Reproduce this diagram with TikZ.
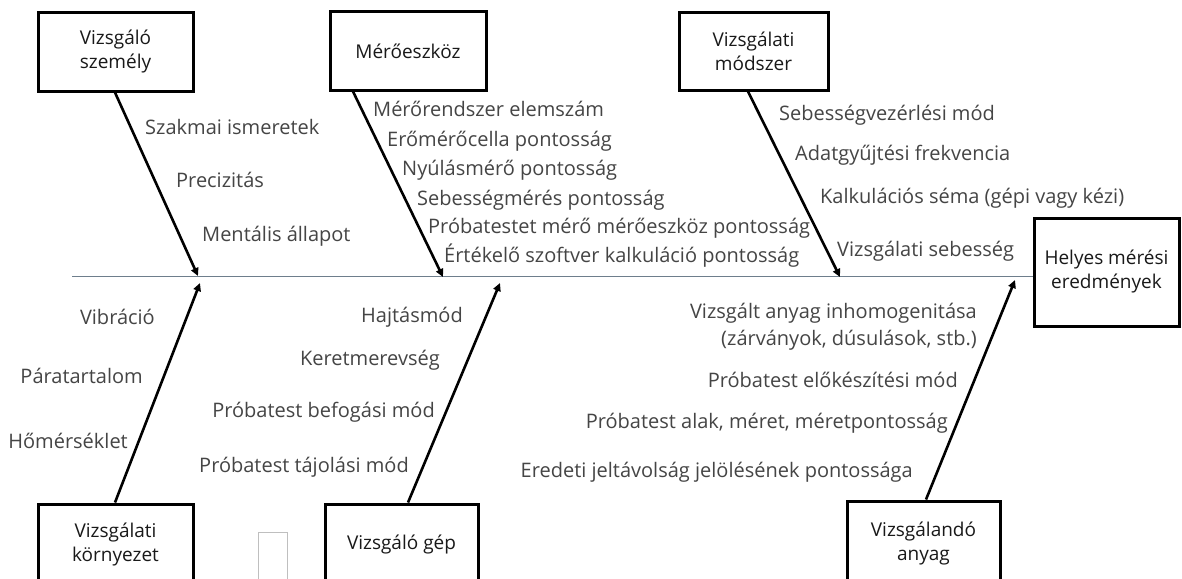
\documentclass[tikz,border=0pt]{standalone}
\usepackage{fontspec}
\setmainfont{Open Sans}
\usetikzlibrary{arrows.meta}
\definecolor{lbl}{HTML}{454545}
\definecolor{spinec}{HTML}{6E7E8C}
\tikzset{
  cause/.style={draw=black, line width=3pt, fill=white, align=center, inner sep=0pt,
    font=\fontsize{19}{24}\selectfont, text=black!90},
  lab/.style={inner sep=0pt, font=\fontsize{20}{27}\selectfont, text=lbl},
  bone/.style={line width=2.6pt, -{Triangle[length=8pt,width=7.5pt]}},
  spine/.style={draw=spinec, line width=1.3pt},
}
\begin{document}
\begin{tikzpicture}[x=1pt,y=-1pt]
\useasboundingbox (0,0) rectangle (1182,578);
\clip (0,0) rectangle (1182,578);
\fill[white] (0,0) rectangle (1182,578);

% cause boxes
\node[cause, minimum width=155pt, minimum height=78pt] (vsz) at (115.5,52) {Vizsgáló\\személy};
\node[cause, minimum width=156pt, minimum height=78pt] (mer) at (408,51) {Mérőeszköz};
\node[cause, minimum width=149pt, minimum height=77pt] (vmo) at (753.5,51.5) {Vizsgálati\\módszer};
\node[cause, minimum width=145pt, minimum height=108pt] (hel) at (1106.5,272) {Helyes mérési\\eredmények};
\node[cause, minimum width=155pt, minimum height=80pt] (vko) at (115.5,544) {Vizsgálati\\környezet};
\node[cause, minimum width=153pt, minimum height=80pt] (vge) at (401.5,544) {Vizsgáló gép};
\node[cause, minimum width=153pt, minimum height=84pt] (van) at (923.5,543) {Vizsgálandó\\anyag};
\node[draw=black!25, line width=0.8pt, minimum width=29pt, minimum height=60pt, inner sep=0pt] (blank) at (272.5,562) {};

% spine
\coordinate (sp0) at (72,276.5);
\draw[spine] (sp0) -- (sp0 -| hel.west);

% tips on spine
\coordinate (t1) at (198,276);
\coordinate (t2) at (443,277);
\coordinate (t3) at (840,277);
\coordinate (b1) at (200,283);
\coordinate (b2) at (500,283);
\coordinate (b3) at (1015,280);

\draw[bone] ([xshift=-0.5pt]vsz.south) -- (t1);
\draw[bone] ([xshift=-55pt]mer.south) -- (t2);
\draw[bone] ([xshift=-5.5pt]vmo.south) -- (t3);
\draw[bone] ([xshift=-0.5pt]vko.north) -- (b1);
\draw[bone] ([xshift=6.5pt]vge.north) -- (b2);
\draw[bone] ([xshift=2.5pt]van.north) -- (b3);

% labels: Vizsgáló személy
\node[lab, anchor=mid west] (l1) at (145,132) {Szakmai ismeretek};
\node[lab, anchor=mid west] (l2) at (176,185) {Precizitás};
\node[lab, anchor=mid west] (l3) at (202,239) {Mentális állapot};
% Mérőeszköz
\node[lab, anchor=mid west] (m1) at (373,114) {Mérőrendszer elemszám};
\node[lab, anchor=mid west] (m2) at (387,144) {Erőmérőcella pontosság};
\node[lab, anchor=mid west] (m3) at (402,173) {Nyúlásmérő pontosság};
\node[lab, anchor=mid west] (m4) at (417,203) {Sebességmérés pontosság};
\node[lab, anchor=mid west] (m5) at (428,231) {Próbatestet mérő mérőeszköz pontosság};
\node[lab, anchor=mid west] (m6) at (444,260) {Értékelő szoftver kalkuláció pontosság};
% Vizsgálati módszer
\node[lab, anchor=mid west] (v1) at (779,118) {Sebességvezérlési mód};
\node[lab, anchor=mid west] (v2) at (795,158) {Adatgyűjtési frekvencia};
\node[lab, anchor=mid west] (v3) at (820,201) {Kalkulációs séma (gépi vagy kézi)};
\node[lab, anchor=mid west] (v4) at (837,254) {Vizsgálati sebesség};
% Vizsgálati környezet
\node[lab, anchor=mid east] (k1) at (155,322) {Vibráció};
\node[lab, anchor=mid east] (k2) at (143,381) {Páratartalom};
\node[lab, anchor=mid east] (k3) at (128,446) {Hőmérséklet};
% Vizsgáló gép
\node[lab, anchor=mid east] (g1) at (463,320) {Hajtásmód};
\node[lab, anchor=mid east] (g2) at (440,363) {Keretmerevség};
\node[lab, anchor=mid east] (g3) at (435,415) {Próbatest befogási mód};
\node[lab, anchor=mid east] (g4) at (409,470) {Próbatest tájolási mód};
% Vizsgálandó anyag
\node[lab, anchor=east, align=right] (a1) at (977,327) {Vizsgált anyag inhomogenitása\\(zárványok, dúsulások, stb.)};
\node[lab, anchor=mid east] (a2) at (958,385) {Próbatest előkészítési mód};
\node[lab, anchor=mid east] (a3) at (948,426) {Próbatest alak, méret, méretpontosság};
\node[lab, anchor=mid east] (a4) at (913,475) {Eredeti jeltávolság jelölésének pontossága};
\end{tikzpicture}
\end{document}
